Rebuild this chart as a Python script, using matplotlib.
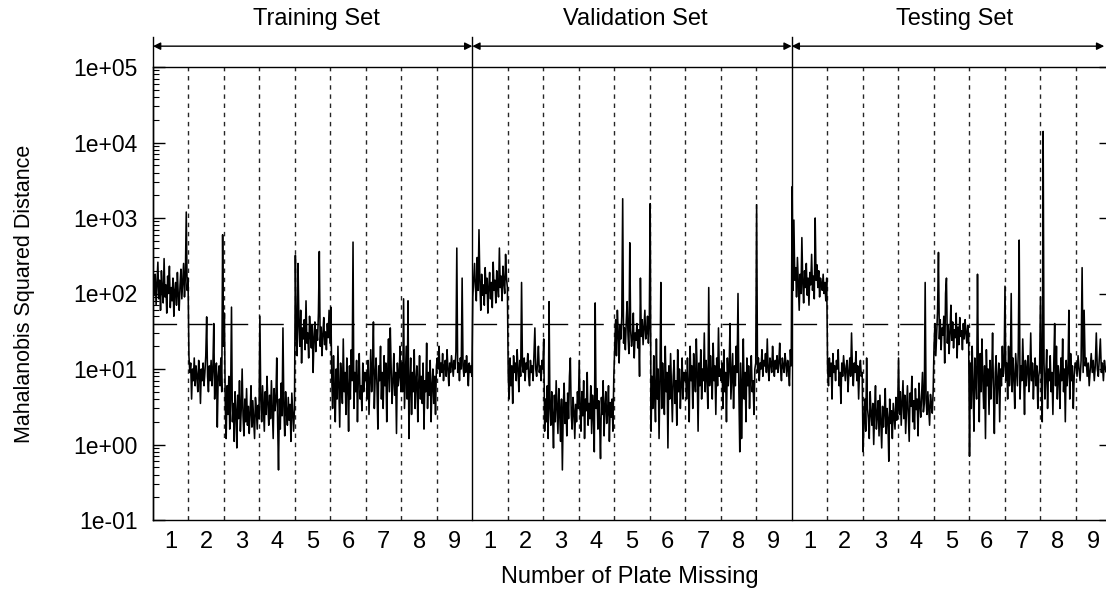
import numpy as np
import matplotlib
matplotlib.use("Agg")
import matplotlib.pyplot as plt
from matplotlib.ticker import FixedLocator, LogLocator, NullFormatter

plt.rcParams['font.family'] = ['Liberation Sans', 'DejaVu Sans']

# ---------------- data ----------------
set_names = ["Training Set", "Validation Set", "Testing Set"]
plate_labels = ["1", "2", "3", "4", "5", "6", "7", "8", "9"]
threshold = 40
ytick_values = [1e-1, 1e0, 1e1, 1e2, 1e3, 1e4, 1e5]
ytick_labels = ["1e-01", "1e+00", "1e+01", "1e+02", "1e+03", "1e+04", "1e+05"]

training_set = [
    [120, 95, 180, 70, 140, 260, 85, 150, 60, 200, 110, 75, 290, 90, 130, 55, 170, 100, 230, 65,
     120, 80, 160, 50, 110, 140, 70, 190, 95, 60, 130, 210, 85, 150, 250, 90, 170, 1200, 110, 160],
    [15, 9, 12, 4, 10, 7, 14, 6, 11, 8, 5, 13, 9, 3.5, 10, 7, 12, 6, 9, 15,
     49, 8, 5, 11, 7, 13, 6, 10, 40, 4, 9, 12, 1.7, 8, 11, 6, 14, 5, 600, 20],
    [55, 3, 1.2, 6, 2.5, 8, 1.6, 4, 66, 2, 3.5, 1.1, 5, 2.8, 0.9, 4.5, 2.2, 7, 1.5, 3,
     10, 2.4, 1.3, 4, 2, 5.5, 1.8, 3.2, 1.4, 2.6, 6, 1.7, 3.8, 2.1, 1.2, 4.2, 2.9, 1.6, 3.3, 2.2],
    [50, 4, 2, 6, 3, 1.5, 5, 2.5, 8, 3.5, 1.8, 4.5, 2.2, 7, 3, 1.2, 5.5, 2.8, 3.8, 14,
     2, 0.46, 4, 1.6, 6.5, 2.4, 35, 3.2, 1.3, 5, 2.7, 1.8, 4.2, 2.1, 3.4, 1.1, 4.8, 2.6, 1.5, 3],
    [320, 30, 15, 250, 40, 20, 60, 12, 35, 25, 45, 18, 80, 22, 30, 14, 50, 28, 19, 38,
     9, 26, 42, 17, 33, 24, 55, 360, 20, 36, 15, 29, 48, 21, 31, 18, 40, 26, 60, 22],
    [66, 8, 3, 15, 5, 2, 10, 4, 20, 6, 1.7, 12, 7, 3.5, 25, 5, 9, 2.5, 14, 6,
     1.5, 11, 4, 18, 7, 480, 3, 9, 5, 13, 2, 8, 16, 4, 6, 2.8, 12, 5, 9, 7],
    [9, 4, 13, 2.5, 7, 18, 5, 10, 42, 3, 8, 14, 6, 1.6, 11, 7, 20, 4, 9, 3,
     15, 6, 12, 2, 8, 25, 5, 35, 10, 3.5, 7, 16, 4.5, 9, 1.4, 12, 6, 8, 20, 5],
    [12, 5, 85, 3, 8, 20, 4, 80, 1.2, 6, 14, 2.5, 9, 5, 18, 3, 7, 11, 2, 6,
     15, 4, 8, 3.5, 12, 1.6, 7, 5, 22, 3, 9, 4.5, 13, 2, 6, 10, 3.5, 8, 2.5, 11],
    [14, 10, 20, 8, 12, 9, 16, 7, 11, 13, 8, 18, 10, 6, 12, 9, 15, 11, 8, 13,
     10, 17, 400, 9, 12, 7, 14, 10, 160, 11, 8, 13, 9, 15, 10, 6, 12, 9, 11, 8],
]

validation_set = [
    [90, 150, 250, 120, 80, 300, 110, 700, 140, 60, 180, 95, 130, 70, 220, 100, 160, 55, 120, 190,
     85, 140, 65, 260, 110, 150, 75, 200, 130, 90, 400, 120, 170, 80, 230, 140, 100, 330, 160, 120],
    [8, 4, 14, 6, 11, 3.5, 15, 9, 12, 7, 18, 10, 5, 13, 8, 140, 11, 9, 14, 7,
     12, 10, 16, 8, 6, 13, 9, 11, 7, 15, 35, 10, 8, 12, 20, 9, 11, 7, 13, 10],
    [25, 1.5, 4, 2, 6, 1.2, 78, 3, 1.8, 5, 2.4, 0.9, 4.5, 2, 7, 3.2, 1.4, 5.5, 2.6, 1.1,
     4, 0.46, 3, 6.5, 1.9, 3.6, 1.3, 4.8, 2.2, 8, 14, 2.5, 1.6, 4.2, 2.8, 1.2, 3.4, 2, 5, 3],
    [13, 3, 1.5, 5, 2.4, 7, 1.2, 4, 2.8, 9, 1.8, 3.5, 2.2, 6, 1.4, 4.5, 2.6, 0.8, 75, 3,
     5.5, 1.6, 3.8, 2, 0.65, 4.2, 2.5, 7, 1.3, 3.2, 5, 1.9, 2.7, 6, 1.1, 3.6, 2.3, 4, 1.5, 8],
    [20, 45, 15, 60, 30, 12, 38, 25, 50, 1800, 22, 35, 18, 42, 78, 28, 16, 470, 32, 20,
     26, 55, 14, 30, 24, 40, 19, 33, 8, 160, 27, 45, 21, 36, 60, 25, 30, 50, 22, 40],
    [1550, 1.5, 8, 3, 15, 5, 2, 25, 4, 10, 1.2, 7, 140, 3, 12, 6, 2.5, 20, 5, 9,
     0.9, 11, 4, 16, 6, 2, 8, 13, 3.5, 7, 1.8, 18, 5, 10, 3, 6, 14, 4, 9, 7],
    [9, 4, 14, 6, 2, 20, 7, 11, 3, 16, 8, 5, 25, 9, 1.5, 12, 6, 18, 4, 10,
     7, 30, 5, 13, 8, 3, 120, 6, 15, 9, 4, 22, 7, 11, 2.5, 14, 6, 35, 8, 10],
    [7, 12, 3, 18, 5, 9, 2, 14, 6, 10, 40, 4, 8, 16, 3, 11, 6, 20, 9, 100,
     5, 0.8, 12, 1.2, 7, 25, 4, 9, 2, 14, 6, 11, 3, 8, 15, 5, 7, 2.5, 10, 12],
    [1500, 9, 14, 7, 12, 10, 18, 8, 13, 11, 16, 9, 25, 10, 7, 14, 12, 9, 20, 11,
     8, 13, 10, 15, 9, 12, 22, 10, 7, 14, 11, 9, 16, 12, 8, 13, 10, 6, 18, 11],
]

testing_set = [
    [2600, 110, 940, 150, 220, 90, 300, 130, 60, 180, 100, 550, 140, 75, 200, 120, 250, 95, 160, 70,
     190, 130, 330, 110, 170, 85, 1000, 150, 240, 120, 200, 90, 160, 130, 110, 180, 100, 140, 80, 160],
    [10, 6, 14, 8, 12, 4, 16, 9, 11, 7, 13, 10, 18, 6, 9, 3.5, 12, 8, 15, 10,
     7, 11, 13, 5, 9, 14, 8, 30, 10, 6, 12, 9, 17, 7, 11, 4, 10, 13, 8, 9],
    [0.8, 2, 4, 1.5, 14, 3, 2.2, 1.2, 5, 2.6, 1.8, 3.5, 1, 2.8, 6, 1.6, 2.4, 3.8, 1.3, 4.5,
     2, 0.9, 3.2, 1.7, 2.6, 5.5, 1.4, 3, 2.2, 0.6, 4, 1.9, 2.8, 1.2, 3.5, 2.4, 1.6, 4.2, 2.1, 3],
    [14, 2.5, 5, 1.8, 3.6, 7, 2.2, 4.5, 1.4, 3, 6, 2.6, 1.1, 4.8, 3.2, 8, 2, 3.8, 1.6, 5.5,
     2.9, 4, 1.3, 6.5, 3.4, 2.3, 4.4, 9, 2.7, 3.5, 140, 4, 2.5, 5, 3, 1.8, 4.6, 3.3, 2.6, 5],
    [20, 40, 15, 30, 60, 350, 25, 45, 18, 35, 28, 50, 12, 100, 160, 22, 38, 16, 30, 70,
     24, 42, 19, 33, 26, 55, 14, 36, 21, 48, 27, 32, 18, 40, 25, 45, 30, 22, 38, 28],
    [0.7, 12, 3, 20, 6, 1.5, 14, 8, 4, 180, 9, 2, 16, 5, 25, 7, 3, 11, 1.2, 18,
     6, 10, 2.5, 13, 4, 8, 30, 5, 1.4, 9, 15, 3.5, 7, 12, 2, 10, 6, 20, 8, 11],
    [125, 7, 12, 4, 20, 6, 9, 100, 5, 14, 8, 3, 16, 10, 6, 18, 510, 4, 11, 7,
     25, 9, 2.5, 13, 6, 10, 15, 5, 8, 30, 7, 12, 4, 9, 14, 6, 11, 3, 8, 10],
    [90, 6, 2, 14000, 12, 4, 8, 18, 3, 10, 7, 15, 5, 9, 2.5, 12, 40, 6, 20, 4,
     11, 8, 3, 14, 7, 25, 5, 10, 2, 13, 6, 9, 60, 4, 16, 7, 11, 3, 8, 12],
    [12, 8, 15, 10, 7, 13, 220, 9, 60, 11, 14, 8, 12, 6, 10, 16, 9, 13, 7, 11,
     30, 10, 8, 14, 25, 9, 12, 7, 13, 10, 9, 14, 8, 12, 10],
]

# ---------------- figure ----------------
W, H = 1106, 603
fig = plt.figure(figsize=(W / 100, H / 100), dpi=100)
ax_left, ax_right, ax_top, ax_bottom = 153, 1111, 67, 520
ax = fig.add_axes([ax_left / W, 1 - ax_bottom / H, (ax_right - ax_left) / W, (ax_bottom - ax_top) / H])

all_sets = [training_set, validation_set, testing_set]
n_per_set = len(plate_labels)
n_total = n_per_set * len(all_sets)

xs, ys = [], []
k = 0
for s in all_sets:
    for seg in s:
        n = len(seg)
        xs.extend(k + (np.arange(n) + 0.5) / n)
        ys.extend(seg)
        k += 1

ax.set_yscale('log')
ax.set_xlim(0, n_total)
ax.set_ylim(ytick_values[0], ytick_values[-1])

# threshold
ax.axhline(threshold, color='black', lw=1.0, dashes=(17, 8.6), zorder=1)

# segment boundaries
for b in range(1, n_total):
    if b % n_per_set == 0:
        continue
    ax.axvline(b, color='0.15', lw=1.0, dashes=(3.2, 3.4), zorder=1)

# data line
ax.plot(xs, ys, color='black', lw=1.15, zorder=3)

# solid set separators extending above axes
xt = ax.get_xaxis_transform()
for b in range(0, n_total, n_per_set):
    ax.plot([b, b], [0, 1.066], transform=xt, clip_on=False, color='black', lw=1.0, zorder=4)

# double-headed arrows and set names
px_per_unit = (ax_right - ax_left) / n_total
x_end_visible = (W - ax_left) / px_per_unit - 0.05
for i, name in enumerate(set_names):
    x0 = i * n_per_set
    x1 = min((i + 1) * n_per_set, x_end_visible)
    ax.annotate('', xy=(x1, 1.046), xytext=(x0, 1.046), xycoords=xt, textcoords=xt,
                arrowprops=dict(arrowstyle='<|-|>', color='black', lw=1.0,
                                mutation_scale=11, shrinkA=0, shrinkB=0),
                annotation_clip=False)
    ax.text(x0 + n_per_set / 2 + 0.1, 1.105, name, transform=xt, ha='center', va='center',
            fontsize=17)

# y axis ticks
ax.yaxis.set_major_locator(FixedLocator(ytick_values))
ax.set_yticklabels(ytick_labels)
ax.yaxis.set_minor_locator(LogLocator(base=10, subs=np.arange(2, 10), numticks=20))
ax.yaxis.set_minor_formatter(NullFormatter())
ax.tick_params(axis='y', which='major', direction='in', length=8.6, width=1.0,
               labelsize=16.5, pad=11, right=True)
ax.tick_params(axis='y', which='minor', direction='in', length=4.3, width=0.8, right=False)

# x axis labels
ax.set_xticks(np.arange(n_total) + 0.5)
ax.set_xticklabels(plate_labels * len(all_sets))
ax.tick_params(axis='x', which='major', length=0, labelsize=17, pad=8)

for sp in ['right']:
    ax.spines[sp].set_visible(False)
for sp in ['left', 'top', 'bottom']:
    ax.spines[sp].set_linewidth(1.0)

fig.text(25 / W, 1 - 294 / H, 'Mahalanobis Squared Distance', rotation=90,
         ha='center', va='center', fontsize=15.5)
fig.text(630 / W, 1 - 577 / H, 'Number of Plate Missing', ha='center', va='center', fontsize=17)

fig.savefig('out.png', dpi=100)
